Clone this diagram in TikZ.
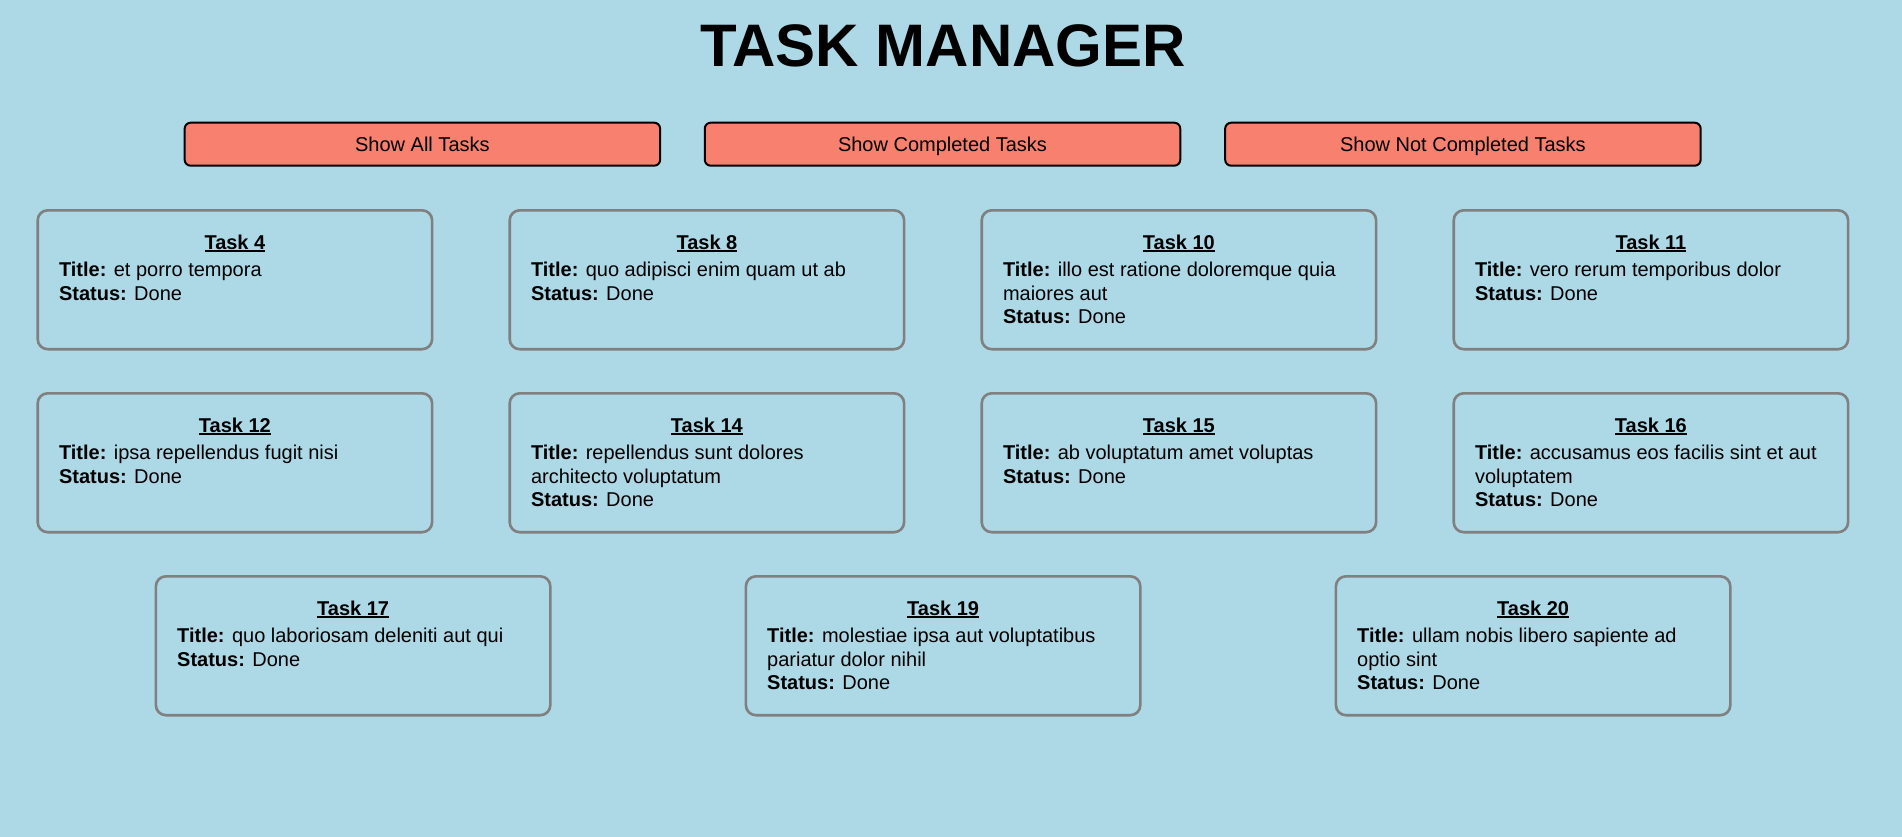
\documentclass[tikz,border=0pt]{standalone}
\usepackage{fontspec}
\setmainfont{Liberation Sans}
\definecolor{bgblue}{HTML}{ADD8E6}
\definecolor{btnfill}{HTML}{F7806E}
\definecolor{cardborder}{HTML}{808080}
\newcommand\ulbox[1]{\setbox0\hbox{#1}\rlap{\rule[-2.4pt]{\wd0}{1.6pt}}\box0}
\tikzset{
  card/.style={draw=cardborder, line width=2.6pt, rounded corners=10pt,
    minimum width=394.4pt, minimum height=138.9pt, anchor=north west, inner sep=0pt},
  btn/.style={draw=black, line width=2pt, fill=btnfill, rounded corners=6pt,
    minimum width=475.5pt, minimum height=43pt, anchor=center, inner sep=0pt,
    text height=14.3pt, text depth=0pt, font=\fontsize{20}{24}\selectfont},
  txt/.style={inner sep=0pt, font=\fontsize{20}{24}\selectfont, anchor=base west},
  head/.style={inner sep=0pt, font=\fontsize{20}{24}\selectfont\bfseries, anchor=base},
}
\newcommand\cardone[5]{%
  \node[card] (#1) at (#2,#3) {};
  \node[head] (#1h) at (#2+198.5,#3+40.3) {\ulbox{Task #4}};
  \node[txt] (#1t) at (#2+22.4,#3+67.7) {\textbf{Title:} #5};
  \node[txt] (#1s) at (#2+22.4,#3+91) {\textbf{Status:} Done};
}
\newcommand\cardtwo[6]{%
  \node[card] (#1) at (#2,#3) {};
  \node[head] (#1h) at (#2+198.5,#3+40.3) {\ulbox{Task #4}};
  \node[txt] (#1t) at (#2+22.4,#3+67.7) {\textbf{Title:} #5};
  \node[txt] (#1u) at (#2+22.4,#3+91) {#6};
  \node[txt] (#1s) at (#2+22.4,#3+114.3) {\textbf{Status:} Done};
}
\begin{document}
\begin{tikzpicture}[x=1pt,y=-1pt]
  \fill[bgblue] (0,0) rectangle (1902,837);
  \useasboundingbox (0,0) rectangle (1902,837);
  \node[font=\fontsize{60}{72}\selectfont\bfseries, anchor=base, inner sep=0pt] (title) at (943,66.7) {TASK MANAGER};
  \node[btn] (ball) at (422.4,144.2) {Show All Tasks};
  \node[btn] (bcomp) at (942.5,144.2) {Show Completed Tasks};
  \node[btn] (bnot) at (1462.9,144.2) {Show Not Completed Tasks};
  % row 1
  \cardone{t4}{36.4}{209}{4}{et porro tempora}
  \cardone{t8}{508.4}{209}{8}{quo adipisci enim quam ut ab}
  \cardtwo{t10}{980.4}{209}{10}{illo est ratione doloremque quia}{maiores aut}
  \cardone{t11}{1452.4}{209}{11}{vero rerum temporibus dolor}
  % row 2
  \cardone{t12}{36.4}{392}{12}{ipsa repellendus fugit nisi}
  \cardtwo{t14}{508.4}{392}{14}{repellendus sunt dolores}{architecto voluptatum}
  \cardone{t15}{980.4}{392}{15}{ab voluptatum amet voluptas}
  \cardtwo{t16}{1452.4}{392}{16}{accusamus eos facilis sint et aut}{voluptatem}
  % row 3
  \cardone{t17}{154.6}{575}{17}{quo laboriosam deleniti aut qui}
  \cardtwo{t19}{744.6}{575}{19}{molestiae ipsa aut voluptatibus}{pariatur dolor nihil}
  \cardtwo{t20}{1334.6}{575}{20}{ullam nobis libero sapiente ad}{optio sint}
\end{tikzpicture}
\end{document}
